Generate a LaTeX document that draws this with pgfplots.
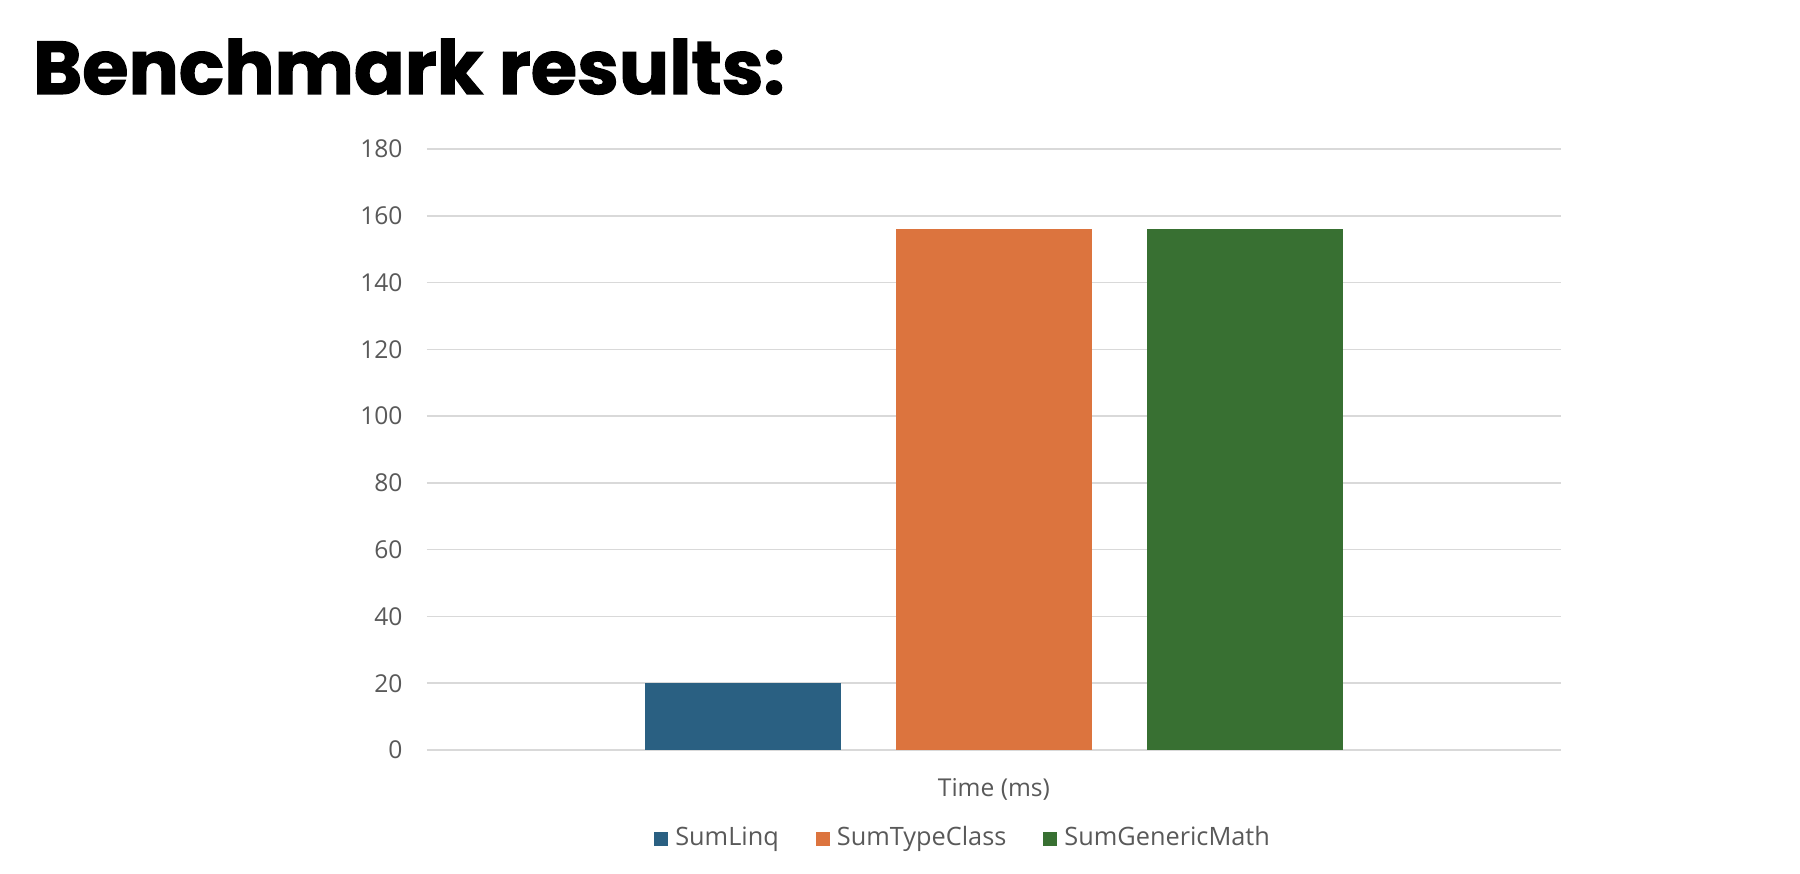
\documentclass[border=0pt]{standalone}
\usepackage{pgfplots}
\pgfplotsset{compat=1.18}
\usepackage{fontspec}
\setmainfont{Open Sans}
\newfontfamily\titlefont{Poppins}[BoldFeatures={FakeBold=1.5}]

\definecolor{txt}{RGB}{89,89,89}
\definecolor{gridc}{RGB}{217,217,217}
\definecolor{cLinq}{RGB}{42,96,130}
\definecolor{cType}{RGB}{220,116,62}
\definecolor{cGen}{RGB}{56,112,50}

\begin{document}
\begin{tikzpicture}
\begin{axis}[
    scale only axis,
    width=113.4mm, height=60.1mm,
    ybar=5.5mm, bar width=19.6mm,
    xmin=-1, xmax=1,
    ymin=0, ymax=180,
    ytick={0,20,...,180},
    xtick={0}, xticklabels={Time (ms)},
    axis line style={draw=none},
    major tick length=0pt,
    ymajorgrids=true,
    grid style={gridc, line width=0.45pt},
    tick label style={font=\fontsize{7}{8}\selectfont, text=txt},
    /pgf/number format/assume math mode=true,
    yticklabel style={xshift=-1.2mm},
    xticklabel style={yshift=-1.6mm},
    legend style={draw=none, fill=none, at={(0.475,-0.148)}, anchor=center,
        legend columns=-1, font=\fontsize{7.2}{8}\selectfont, text=txt,
        /tikz/every even column/.append style={column sep=3mm}},
    legend image code/.code={\fill[#1] (0mm,-0.7mm) rectangle (1.4mm,0.7mm);},
]
\addplot[fill=cLinq, draw=none] coordinates {(0,20)};
\addlegendentry{SumLinq}
\addplot[fill=cType, draw=none] coordinates {(0,156)};
\addlegendentry{SumTypeClass}
\addplot[fill=cGen, draw=none] coordinates {(0,156)};
\addlegendentry{SumGenericMath}
\coordinate (tt) at (rel axis cs:-0.348,1.0915);
\coordinate (bl) at (rel axis cs:-0.3765,-0.2063);
\coordinate (tr) at (rel axis cs:1.2108,1.2479);
\end{axis}
\node[anchor=base west, inner sep=0pt,
    font=\titlefont\bfseries\fontsize{21.3}{25}\selectfont] at (tt) {Benchmark results:};
\pgfresetboundingbox
\path[use as bounding box] (bl) rectangle (tr);
\end{tikzpicture}
\end{document}
